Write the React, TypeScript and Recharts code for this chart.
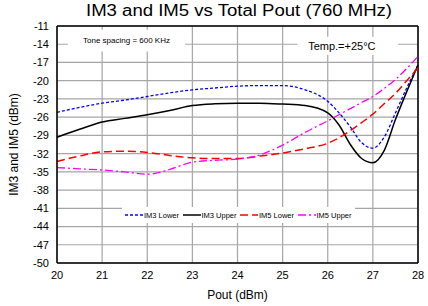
import React from 'react';
import { LineChart, Line, XAxis, YAxis, CartesianGrid, Legend, ReferenceArea, ReferenceLine } from 'recharts';

const pout = [20, 20.5, 21, 21.5, 22, 22.5, 23, 23.5, 24, 24.5, 25, 25.5, 26, 26.25, 26.5, 26.75, 27, 27.25, 27.5, 27.75, 28];
const im3Lower = [-25.2, -24.4, -23.7, -23.2, -22.6, -22.0, -21.5, -21.2, -20.9, -20.8, -20.8, -21.5, -23.4, -25.3, -27.6, -30.2, -31.1, -29.3, -25.3, -21.2, -17.4];
const im3Upper = [-29.3, -28.0, -26.8, -26.2, -25.6, -24.9, -24.1, -23.8, -23.7, -23.7, -23.85, -24.1, -25.3, -27.3, -30.5, -32.8, -33.5, -31.5, -26.4, -21.8, -17.4];
const im5Lower = [-33.3, -32.4, -31.7, -31.6, -31.8, -32.3, -32.7, -32.8, -32.8, -32.4, -31.9, -31.2, -30.3, -29.4, -28.2, -26.9, -25.5, -23.8, -22.1, -20.0, -17.9];
const im5Upper = [-34.3, -34.5, -34.7, -35.0, -35.4, -34.6, -33.4, -33.1, -32.9, -32.2, -30.6, -28.5, -26.6, -25.6, -24.6, -23.6, -22.6, -21.3, -19.8, -18.0, -16.0];

const xTicks = [20, 21, 22, 23, 24, 25, 26, 27, 28];
const yTicks = [-11, -14, -17, -20, -23, -26, -29, -32, -35, -38, -41, -44, -47, -50];

const seriesNames = ['IM3 Lower', 'IM3 Upper', 'IM5 Lower', 'IM5 Upper'];
const seriesKeys = ['im3l', 'im3u', 'im5l', 'im5u'];
const seriesColors = ['#0000ff', '#000000', '#ff0000', '#ff00ff'];
const seriesDash = ['3 2', '', '8 4', '8 3 2 3'];
const seriesWidth = [1.3, 1.5, 1.5, 1.3];

const data = pout.map((p, i) => ({
  pout: p,
  im3l: im3Lower[i],
  im3u: im3Upper[i],
  im5l: im5Lower[i],
  im5u: im5Upper[i],
}));

const FONT = '"Liberation Sans", Arial, sans-serif';

const YLabel = () => (
  <text
    x={14}
    y={144.5}
    transform="rotate(-90 14 144.5)"
    textAnchor="middle"
    dominantBaseline="central"
    fontSize={12}
    fill="#000"
    fontFamily={FONT}
  >
    IM3 and IM5 (dBm)
  </text>
);

const renderLegend = () => (
  <div
    style={{
      background: '#fff',
      display: 'flex',
      alignItems: 'center',
      height: 16,
      paddingLeft: 3,
      fontSize: 7.5,
      fontFamily: FONT,
      color: '#000',
      boxSizing: 'border-box',
    }}
  >
    {seriesNames.map((n, i) => (
      <span key={n} style={{ display: 'flex', alignItems: 'center', width: 59.5 }}>
        <svg width={18} height={6} style={{ marginRight: 1 }}>
          <line x1={0} y1={3} x2={18} y2={3} stroke={seriesColors[i]} strokeWidth={seriesWidth[i]} strokeDasharray={seriesDash[i] || undefined} />
        </svg>
        {n}
      </span>
    ))}
  </div>
);

export default function App() {
  return (
    <div style={{ position: 'absolute', left: 0, top: 0, width: 428, height: 306, background: '#fff', fontFamily: FONT }}>
      <div
        style={{
          position: 'absolute',
          left: 0,
          width: 478,
          top: 1,
          textAlign: 'center',
          fontSize: 16,
          lineHeight: '20px',
          color: '#000',
          zIndex: 2,
          transform: 'scaleX(1.16)',
          transformOrigin: '239px 0px',
        }}
      >
        IM3 and IM5 vs Total Pout (760 MHz)
      </div>
      <LineChart width={428} height={306} data={data} margin={{ top: 26, right: 10, bottom: 0, left: 0 }}>
        <CartesianGrid stroke="#a6a6a6" strokeWidth={1.2} />
        <XAxis
          dataKey="pout"
          type="number"
          domain={[20, 28]}
          ticks={xTicks}
          height={43}
          tickLine={false}
          axisLine={{ stroke: '#000', strokeWidth: 1.5 }}
          tick={{ fill: '#000', fontSize: 11, fontFamily: FONT }}
          label={{ value: 'Pout (dBm)', position: 'insideBottom', offset: 7, fill: '#000', fontSize: 12, fontFamily: FONT }}
        />
        <YAxis
          type="number"
          domain={[-50, -11]}
          ticks={yTicks}
          width={57}
          interval={0}
          tickLine={false}
          axisLine={{ stroke: '#000', strokeWidth: 1.5 }}
          tick={{ fill: '#000', fontSize: 11, fontFamily: FONT }}
          label={<YLabel />}
        />
        <ReferenceLine y={-11} stroke="#000" strokeWidth={1.5} />
        <ReferenceLine x={28} stroke="#000" strokeWidth={1.5} />
        <ReferenceArea
          x1={20.24}
          x2={22.84}
          y1={-11.6}
          y2={-15.2}
          fill="#fff"
          fillOpacity={1}
          stroke="none"
          label={{ value: 'Tone spacing = 600 KHz', position: 'center', fontSize: 8, fill: '#000', fontFamily: FONT }}
        />
        <ReferenceArea
          x1={25.33}
          x2={27.56}
          y1={-12.76}
          y2={-15.73}
          fill="#fff"
          fillOpacity={1}
          stroke="none"
          label={{ value: 'Temp.=+25°C', position: 'center', fontSize: 11, fill: '#000', fontFamily: FONT, dx: -6 }}
        />
        <Legend
          layout="horizontal"
          align="center"
          verticalAlign="middle"
          content={renderLegend}
          wrapperStyle={{ position: 'absolute', left: 122, top: 207, width: 233, height: 16 }}
        />
        {seriesKeys.map((k, i) => (
          <Line
            key={k}
            dataKey={k}
            name={seriesNames[i]}
            type="monotone"
            stroke={seriesColors[i]}
            strokeWidth={seriesWidth[i]}
            strokeDasharray={seriesDash[i] || undefined}
            dot={false}
            activeDot={false}
            isAnimationActive={false}
          />
        ))}
      </LineChart>
    </div>
  );
}
